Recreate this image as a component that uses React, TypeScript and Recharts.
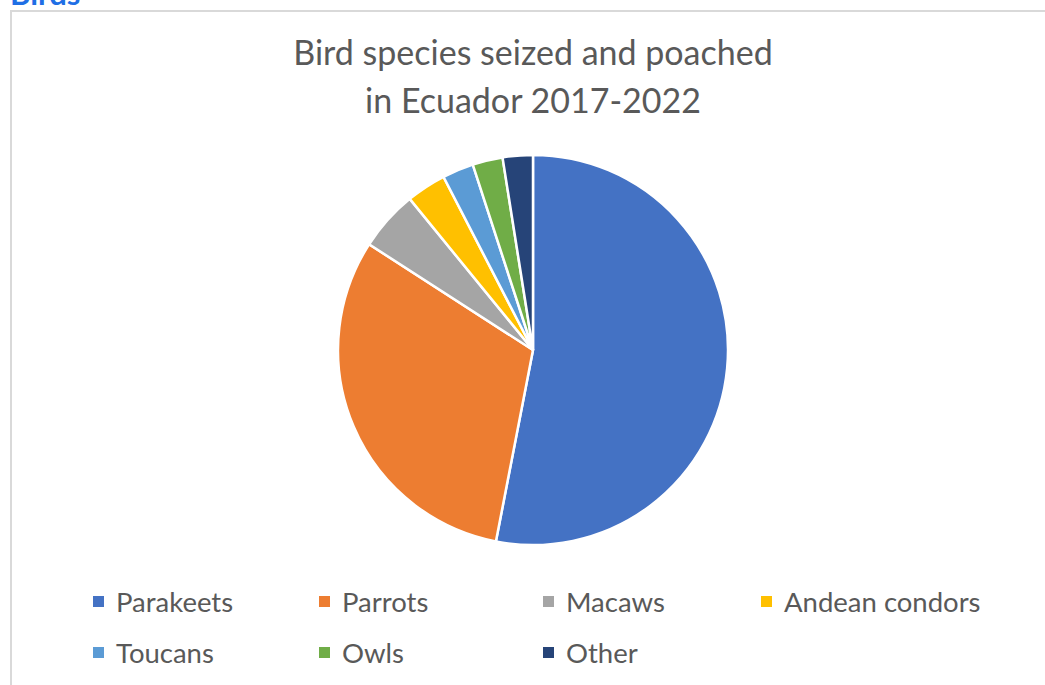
import { PieChart, Pie, Cell, Legend } from 'recharts';

const species = ['Parakeets', 'Parrots', 'Macaws', 'Andean condors', 'Toucans', 'Owls', 'Other'];
const shares = [53.1, 31.1, 5.0, 3.3, 2.6, 2.5, 2.5];
const colors = ['#4472C4', '#ED7D31', '#A5A5A5', '#FFC000', '#5B9BD5', '#70AD47', '#264478'];

const titleLines = ['Bird species seized and poached', 'in Ecuador 2017-2022'];

const pieData = species.map((name, i) => ({ name, value: shares[i] }));

const FONT = 'Lato, "Open Sans", sans-serif';

// legend columns / rows as they sit in the reference (4 per row)
const legendCols = [93, 319, 543, 761];
const legendRows = [601, 652];

function LegendGrid() {
  return (
    <div style={{ position: 'relative', width: 1045, height: 100 }}>
      {species.map((name, i) => {
        const col = legendCols[i % 4];
        const row = legendRows[Math.floor(i / 4)] - 580;
        return (
          <div
            key={name}
            style={{
              position: 'absolute',
              left: col,
              top: row - 16,
              height: 32,
              display: 'flex',
              alignItems: 'center',
              whiteSpace: 'nowrap',
            }}
          >
            <span style={{ width: 11, height: 11, background: colors[i], display: 'inline-block', marginRight: 12 }} />
            <span style={{ fontFamily: FONT, fontSize: 27.5, color: '#595959' }}>{name}</span>
          </div>
        );
      })}
    </div>
  );
}

export default function App() {
  return (
    <div style={{ position: 'absolute', left: 0, top: 0, width: 1045, height: 685, background: '#fff', overflow: 'hidden' }}>
      <div
        style={{
          position: 'absolute',
          left: 10,
          top: -26,
          fontFamily: FONT,
          fontWeight: 700,
          fontSize: 31,
          color: '#1F6FE5',
        }}
      >
        Birds
      </div>
      <div
        style={{
          position: 'absolute',
          left: 10,
          top: 10,
          width: 1100,
          height: 700,
          borderLeft: '2px solid #d9d9d9',
          borderTop: '2px solid #d9d9d9',
        }}
      />
      <div
        style={{
          position: 'absolute',
          left: 0,
          width: 1066,
          top: 28,
          textAlign: 'center',
          fontFamily: FONT,
          fontSize: 34,
          lineHeight: '48px',
          color: '#595959',
        }}
      >
        {titleLines.map((t) => (
          <div key={t}>{t}</div>
        ))}
      </div>
      <PieChart width={1045} height={685} style={{ position: 'absolute', left: 0, top: 0 }}>
        <Pie
          data={pieData}
          dataKey="value"
          nameKey="name"
          cx={528}
          cy={345}
          outerRadius={195}
          startAngle={90}
          endAngle={-270}
          stroke="#fff"
          strokeWidth={2.5}
          isAnimationActive={false}
        >
          {pieData.map((d, i) => (
            <Cell key={d.name} fill={colors[i]} />
          ))}
        </Pie>
        <Legend
          content={() => <LegendGrid />}
          wrapperStyle={{ left: 0, top: 580, width: 1045 }}
        />
      </PieChart>
    </div>
  );
}
